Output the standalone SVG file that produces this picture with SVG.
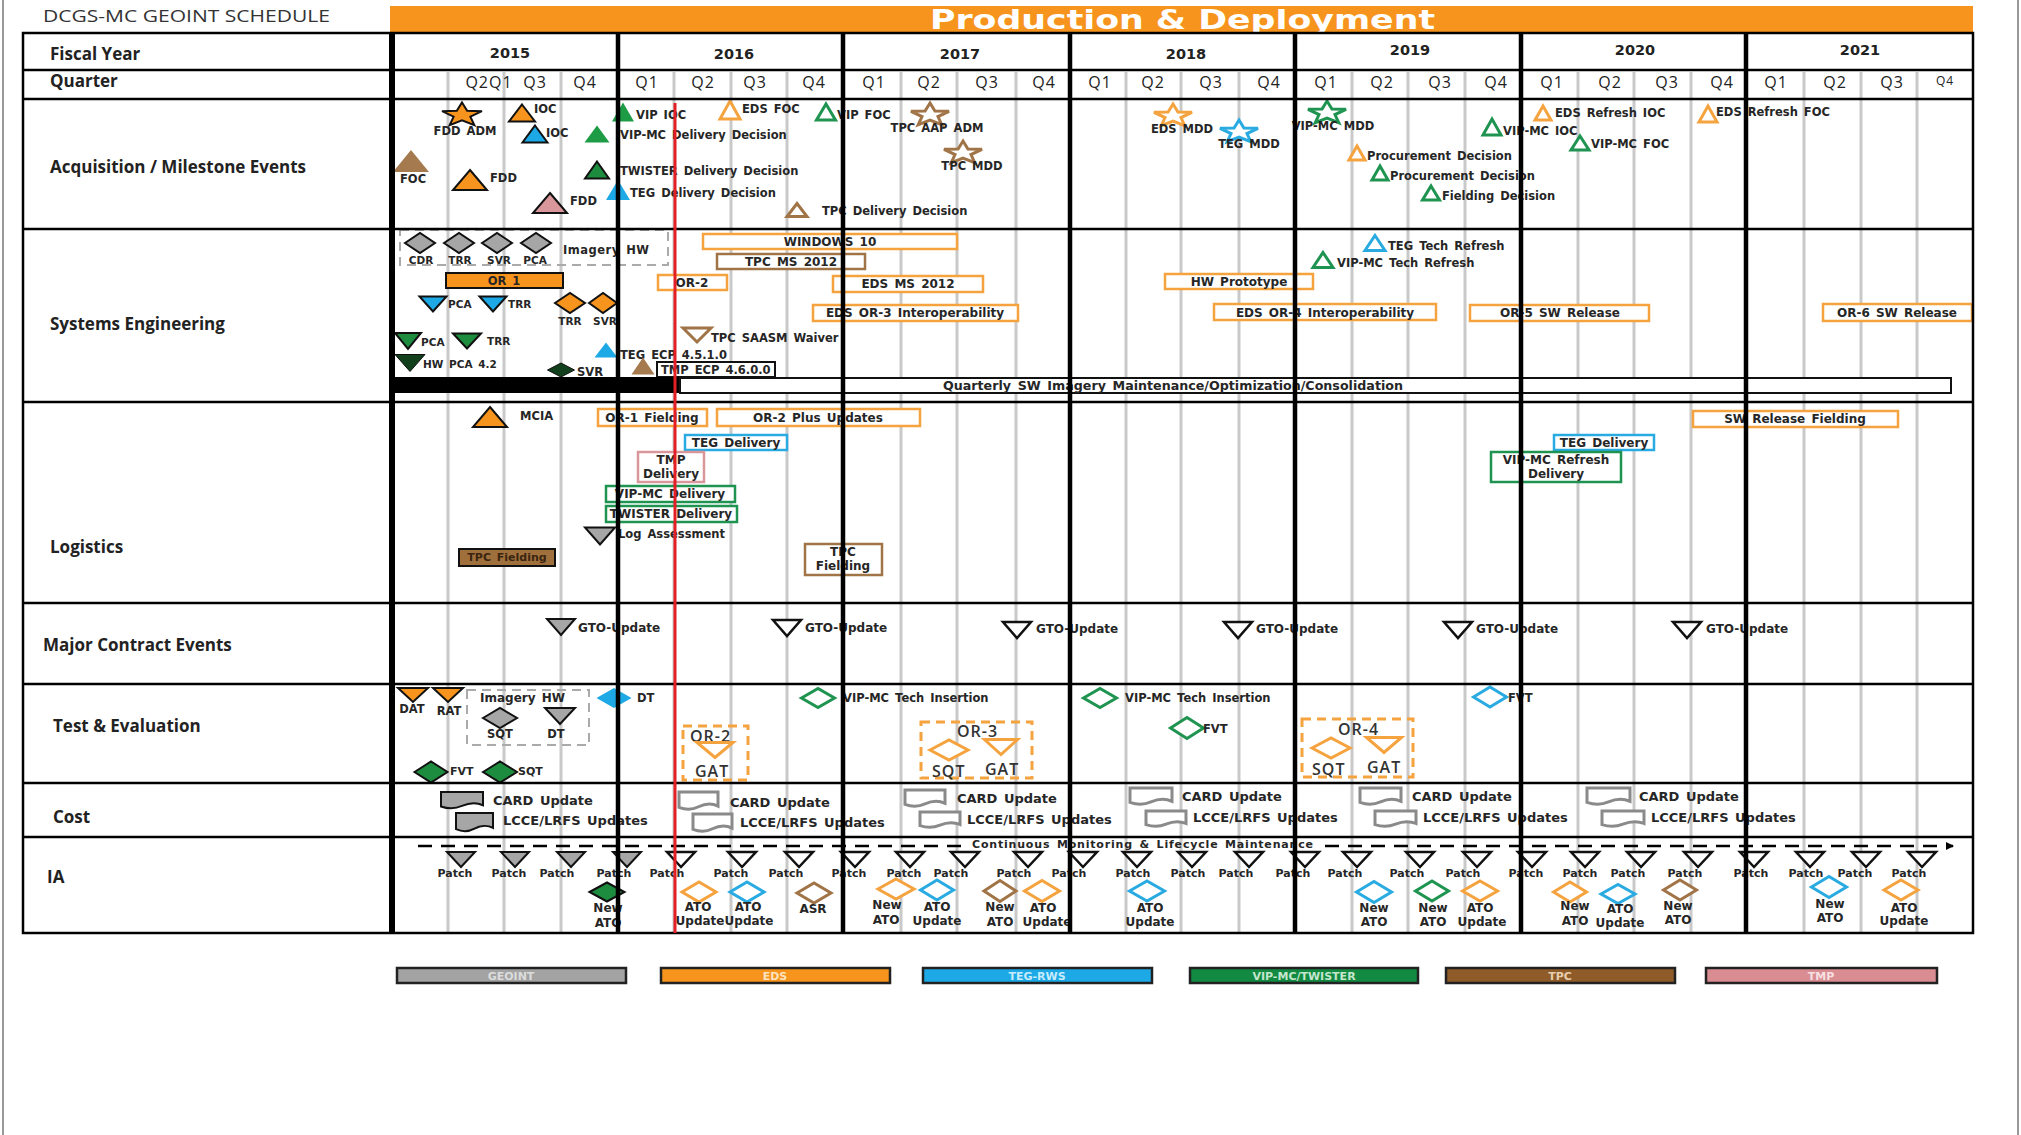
<svg xmlns="http://www.w3.org/2000/svg" width="2021" height="1135" viewBox="0 0 2021 1135">
<style>
text{font-family:"DejaVu Sans",Verdana,sans-serif;font-weight:bold;font-size:11.5px;fill:#262626;word-spacing:2px}
.h{font-family:"Open Sans","Liberation Sans",sans-serif;font-size:17px;font-weight:700;word-spacing:0;fill:#222}
.yr{font-size:14.5px;text-anchor:middle;fill:#222}
.q{font-family:"Open Sans","Liberation Sans",sans-serif;font-weight:400;font-size:16px;letter-spacing:1px;text-anchor:middle;fill:#222}
.mid{text-anchor:middle}
.bx{font-size:12px;text-anchor:middle}
.c{font-size:13px}
.ia{font-size:12px;text-anchor:middle}
.pt{font-size:11px;text-anchor:middle}
.or{font-family:"Open Sans","Liberation Sans",sans-serif;font-weight:600;font-size:16px;letter-spacing:1px;fill:#333}
.lg{font-size:11px;text-anchor:middle}
.grid{stroke:#c9c9c9;stroke-width:3}
.yl{stroke:#000;stroke-width:4.5}
.hl{stroke:#000;stroke-width:2.5}
.oF{fill:#F7941D;stroke:#111;stroke-width:2}
.oO{fill:#fff;stroke:#F5A33F;stroke-width:3}
.bF{fill:#1CA9E6;stroke:#111;stroke-width:2}
.bN{fill:#1CA9E6}
.bO{fill:#fff;stroke:#29ABE2;stroke-width:3}
.gF{fill:#1E8C3E;stroke:#111;stroke-width:2}
.gN{fill:#1E9B45}
.gO{fill:#fff;stroke:#1E9450;stroke-width:3}
.dg{fill:#123F1C;stroke:#111;stroke-width:1}
.rN{fill:#A57A4E}
.rO{fill:#fff;stroke:#A07446;stroke-width:3}
.pF{fill:#D9979B;stroke:#111;stroke-width:2}
.yF{fill:#A6A6A6;stroke:#111;stroke-width:2}
.kO{fill:#fff;stroke:#111;stroke-width:2.5}
.cO{fill:#fff;stroke:#8a8a8a;stroke-width:3}
.bxo{fill:#fff;stroke:#F5A33F;stroke-width:2.5}
.bxr{fill:#fff;stroke:#A07446;stroke-width:2.5}
.bxb{fill:#fff;stroke:#29ABE2;stroke-width:2.5}
.bxg{fill:#fff;stroke:#1E9450;stroke-width:2.5}
.bxp{fill:#fff;stroke:#D9979B;stroke-width:2.5}
.bxk{fill:#fff;stroke:#111;stroke-width:2}
.dsh{fill:none;stroke:#aaa;stroke-width:2;stroke-dasharray:9 6}
.dso{fill:none;stroke:#F5A33F;stroke-width:3;stroke-dasharray:9 6}
.leg{stroke:#222;stroke-width:2.5}
</style>
<defs>
<path id="tu" d="M0,-0.5L0.5,0.5L-0.5,0.5Z" vector-effect="non-scaling-stroke"/>
<path id="td" d="M-0.5,-0.5L0.5,-0.5L0,0.5Z" vector-effect="non-scaling-stroke"/>
<path id="dm" d="M-0.5,0L0,-0.5L0.5,0L0,0.5Z" vector-effect="non-scaling-stroke"/>
<path id="st" d="M0,-1L0.247,-0.34L0.951,-0.309L0.399,0.13L0.588,0.809L0,0.42L-0.588,0.809L-0.399,0.13L-0.951,-0.309L-0.247,-0.34Z" vector-effect="non-scaling-stroke"/>
<path id="doc" d="M0,0H1V0.78C0.85,0.62 0.65,0.66 0.5,0.82C0.35,0.98 0.15,0.98 0,0.85Z" vector-effect="non-scaling-stroke"/>
<marker id="arr" markerWidth="8" markerHeight="8" refX="7" refY="4" orient="auto" markerUnits="userSpaceOnUse"><path d="M0,0L8,4L0,8Z" fill="#000"/></marker>
</defs>
<rect width="2021" height="1135" fill="#fff"/>
<line x1="3" y1="0" x2="3" y2="1135" stroke="#999" stroke-width="2"/>
<line x1="2018" y1="0" x2="2018" y2="1135" stroke="#999" stroke-width="2"/>

<g id="title">
<text x="43" y="22" style="font-family:'Open Sans','Liberation Sans',sans-serif;font-weight:400;font-size:16.5px;word-spacing:0;fill:#333" textLength="287" lengthAdjust="spacingAndGlyphs">DCGS-MC GEOINT SCHEDULE</text>
<rect x="390" y="6" width="1583" height="28" fill="#F7941D"/>
<text x="930" y="29" style="font-size:26px;fill:#fff;word-spacing:0" textLength="505" lengthAdjust="spacingAndGlyphs">Production &amp; Deployment</text>
</g>

<g id="grid">
<g class="grid">
<line x1="448" y1="72" x2="448" y2="933"/><line x1="504" y1="72" x2="504" y2="933"/><line x1="561" y1="72" x2="561" y2="933"/>
<line x1="674" y1="72" x2="674" y2="933"/><line x1="731" y1="72" x2="731" y2="933"/><line x1="787" y1="72" x2="787" y2="933"/>
<line x1="901" y1="72" x2="901" y2="933"/><line x1="957" y1="72" x2="957" y2="933"/><line x1="1016" y1="72" x2="1016" y2="933"/>
<line x1="1126" y1="72" x2="1126" y2="933"/><line x1="1181" y1="72" x2="1181" y2="933"/><line x1="1239" y1="72" x2="1239" y2="933"/>
<line x1="1352" y1="72" x2="1352" y2="933"/><line x1="1408" y1="72" x2="1408" y2="933"/><line x1="1465" y1="72" x2="1465" y2="933"/>
<line x1="1578" y1="72" x2="1578" y2="933"/><line x1="1634" y1="72" x2="1634" y2="933"/><line x1="1691" y1="72" x2="1691" y2="933"/>
<line x1="1804" y1="72" x2="1804" y2="933"/><line x1="1861" y1="72" x2="1861" y2="933"/><line x1="1917" y1="72" x2="1917" y2="933"/>
</g>
</g>

<g id="headers">
<text class="h" x="50" y="60">Fiscal Year</text>
<text class="h" x="50" y="87">Quarter</text>
<text class="h" x="50" y="173">Acquisition / Milestone Events</text>
<text class="h" x="50" y="330">Systems Engineering</text>
<text class="h" x="50" y="553">Logistics</text>
<text class="h" x="43" y="651">Major Contract Events</text>
<text class="h" x="53" y="732">Test &amp; Evaluation</text>
<text class="h" x="53" y="823">Cost</text>
<text class="h" x="47" y="883">IA</text>
<text class="yr" x="510" y="58">2015</text>
<text class="yr" x="734" y="59">2016</text>
<text class="yr" x="960" y="59">2017</text>
<text class="yr" x="1186" y="59">2018</text>
<text class="yr" x="1410" y="55">2019</text>
<text class="yr" x="1635" y="55">2020</text>
<text class="yr" x="1860" y="55">2021</text>
<text class="q" x="489" y="88">Q2Q1</text><text class="q" x="535" y="88">Q3</text><text class="q" x="585" y="88">Q4</text>
<text class="q" x="647" y="88">Q1</text><text class="q" x="703" y="88">Q2</text><text class="q" x="755" y="88">Q3</text><text class="q" x="814" y="88">Q4</text>
<text class="q" x="874" y="88">Q1</text><text class="q" x="929" y="88">Q2</text><text class="q" x="987" y="88">Q3</text><text class="q" x="1044" y="88">Q4</text>
<text class="q" x="1100" y="88">Q1</text><text class="q" x="1153" y="88">Q2</text><text class="q" x="1211" y="88">Q3</text><text class="q" x="1269" y="88">Q4</text>
<text class="q" x="1326" y="88">Q1</text><text class="q" x="1382" y="88">Q2</text><text class="q" x="1440" y="88">Q3</text><text class="q" x="1496" y="88">Q4</text>
<text class="q" x="1552" y="88">Q1</text><text class="q" x="1610" y="88">Q2</text><text class="q" x="1667" y="88">Q3</text><text class="q" x="1722" y="88">Q4</text>
<text class="q" x="1776" y="88">Q1</text><text class="q" x="1835" y="88">Q2</text><text class="q" x="1892" y="88">Q3</text><text class="q" x="1945" y="85" style="font-size:12px">Q4</text>
</g>

<g id="acquisition">
<g id="fdd-adm"><use href="#st" class="oF" transform="translate(462,115) scale(21,12.5)"/><text x="465" y="135" class="mid">FDD ADM</text></g>
<g id="ioc-eds"><use href="#tu" class="oF" transform="translate(522,113) scale(26,17)"/><text x="534" y="113">IOC</text></g>
<g id="ioc-teg"><use href="#tu" class="bF" transform="translate(535,134) scale(25,17)"/><text x="546" y="137">IOC</text></g>
<g id="vipmc-dd"><use href="#tu" class="gN" transform="translate(597,134) scale(25,17)"/><text x="620" y="139">VIP-MC Delivery Decision</text></g>
<g id="vip-ioc"><use href="#tu" class="gN" transform="translate(623,112) scale(22,19)"/><text x="636" y="119">VIP IOC</text></g>
<g id="twister-dd"><use href="#tu" class="gF" transform="translate(597,170) scale(24,17)"/><text x="620" y="175">TWISTER Delivery Decision</text></g>
<g id="teg-dd"><use href="#tu" class="bN" transform="translate(618,190) scale(24,20)"/><text x="630" y="197">TEG Delivery Decision</text></g>
<g id="fdd-tmp"><use href="#tu" class="pF" transform="translate(550,203) scale(34,20)"/><text x="570" y="205">FDD</text></g>
<g id="foc"><use href="#tu" class="rN" transform="translate(411,161) scale(36,22)"/><text x="400" y="183">FOC</text></g>
<g id="fdd-eds"><use href="#tu" class="oF" transform="translate(470,180) scale(34,20)"/><text x="490" y="182">FDD</text></g>
<g id="eds-foc"><use href="#tu" class="oO" transform="translate(730,110) scale(20,18)"/><text x="742" y="113">EDS FOC</text></g>
<g id="vip-foc"><use href="#tu" class="gO" transform="translate(826,112) scale(19,16)"/><text x="837" y="119">VIP FOC</text></g>
<g id="tpc-aap-adm"><use href="#st" class="rO" transform="translate(930,115) scale(20,12)"/><text x="937" y="132" class="mid">TPC AAP ADM</text></g>
<g id="tpc-mdd"><use href="#st" class="rO" transform="translate(963,153) scale(20,12)"/><text x="972" y="170" class="mid">TPC MDD</text></g>
<g id="tpc-dd"><use href="#tu" class="rO" transform="translate(797,210) scale(20,13)"/><text x="822" y="215">TPC Delivery Decision</text></g>
<g id="eds-mdd"><use href="#st" class="oO" transform="translate(1173,116) scale(20,12)"/><text x="1182" y="133" class="mid">EDS MDD</text></g>
<g id="teg-mdd"><use href="#st" class="bO" transform="translate(1239,132) scale(20,12)"/><text x="1249" y="148" class="mid">TEG MDD</text></g>
<g id="vipmc-mdd"><use href="#st" class="gO" transform="translate(1327,113) scale(20,12)"/><text x="1333" y="130" class="mid">VIP-MC MDD</text></g>
<g id="proc-eds"><use href="#tu" class="oO" transform="translate(1357,153) scale(16,14)"/><text x="1367" y="160">Procurement Decision</text></g>
<g id="proc-vip"><use href="#tu" class="gO" transform="translate(1380,173) scale(16,14)"/><text x="1390" y="180">Procurement Decision</text></g>
<g id="fielding-dec"><use href="#tu" class="gO" transform="translate(1431,193) scale(17,14)"/><text x="1442" y="200">Fielding Decision</text></g>
<g id="vipmc-ioc"><use href="#tu" class="gO" transform="translate(1492,127) scale(18,16)"/><text x="1503" y="135">VIP-MC IOC</text></g>
<g id="eds-ref-ioc"><use href="#tu" class="oO" transform="translate(1543,113) scale(16,14)"/><text x="1555" y="117">EDS Refresh IOC</text></g>
<g id="vipmc-foc"><use href="#tu" class="gO" transform="translate(1580,143) scale(18,14)"/><text x="1591" y="148">VIP-MC FOC</text></g>
<g id="eds-ref-foc"><use href="#tu" class="oO" transform="translate(1708,114) scale(18,16)"/><text x="1716" y="116">EDS Refresh FOC</text></g>
</g>

<g id="systems-eng">
<g id="imagery-hw-se">
<rect class="dsh" x="400" y="230" width="268" height="35"/>
<use href="#dm" class="yF" transform="translate(420,243) scale(30,20)"/>
<use href="#dm" class="yF" transform="translate(459,243) scale(30,20)"/>
<use href="#dm" class="yF" transform="translate(497,243) scale(30,20)"/>
<use href="#dm" class="yF" transform="translate(536,243) scale(30,20)"/>
<text x="421" y="264" class="mid" style="font-size:10.5px">CDR</text>
<text x="460" y="264" class="mid" style="font-size:10.5px">TRR</text>
<text x="499" y="264" class="mid" style="font-size:10.5px">SVR</text>
<text x="535" y="264" class="mid" style="font-size:10.5px">PCA</text>
<text x="563" y="254" style="letter-spacing:0.5px">Imagery HW</text>
</g>
<g id="or1"><rect x="446" y="273" width="117" height="15" fill="#F7941D" stroke="#111" stroke-width="2"/><text x="504" y="285" class="mid">OR 1</text></g>
<g id="pca-teg"><use href="#td" class="bF" transform="translate(433,304) scale(27,15)"/><text x="448" y="308" style="font-size:10.5px">PCA</text></g>
<g id="trr-teg"><use href="#td" class="bF" transform="translate(493,304) scale(27,15)"/><text x="508" y="308" style="font-size:10.5px">TRR</text></g>
<g id="trr-eds"><use href="#dm" class="oF" transform="translate(570,303) scale(30,20)"/><text x="570" y="325" class="mid" style="font-size:10.5px">TRR</text></g>
<g id="svr-eds"><use href="#dm" class="oF" transform="translate(603,303) scale(28,20)"/><text x="605" y="325" class="mid" style="font-size:10.5px">SVR</text></g>
<g id="pca-vip"><use href="#td" class="gF" transform="translate(408,341) scale(26,16)"/><text x="421" y="346" style="font-size:10.5px">PCA</text></g>
<g id="trr-vip"><use href="#td" class="gF" transform="translate(467,341) scale(28,15)"/><text x="487" y="345" style="font-size:10.5px">TRR</text></g>
<g id="hw-pca"><use href="#td" class="dg" transform="translate(410,363) scale(30,17)"/><text x="423" y="368" style="font-size:10.5px">HW PCA 4.2</text></g>
<g id="svr-vip"><use href="#dm" class="dg" transform="translate(561,370) scale(27,14)"/><text x="577" y="376">SVR</text></g>
<g id="teg-ecp"><use href="#tu" class="bN" transform="translate(606,350) scale(23,15)"/><text x="620" y="359">TEG ECP 4.5.1.0</text></g>
<g id="tmp-ecp"><use href="#tu" class="rN" transform="translate(643,366) scale(23,17)"/><rect class="bxk" x="657" y="362" width="118" height="15"/><text x="661" y="374">TMP ECP 4.6.0.0</text></g>
<g id="tpc-saasm"><use href="#td" class="rO" transform="translate(697,335) scale(28,14)"/><text x="711" y="342">TPC SAASM Waiver</text></g>
<g id="quarterly"><rect x="392" y="377" width="288" height="16" fill="#000"/><rect class="bxk" x="680" y="378" width="1271" height="15"/><text x="943" y="390" textLength="460" lengthAdjust="spacingAndGlyphs">Quarterly SW Imagery Maintenance/Optimization/Consolidation</text></g>
<g id="win10"><rect class="bxo" x="703" y="234" width="254" height="15"/><text x="830" y="246" class="bx">WINDOWS 10</text></g>
<g id="tpc-ms"><rect class="bxr" x="717" y="254" width="148" height="15"/><text x="791" y="266" class="bx">TPC MS 2012</text></g>
<g id="or2-se"><rect class="bxo" x="658" y="275" width="69" height="15"/><text x="692" y="287" class="bx">OR-2</text></g>
<g id="eds-ms"><rect class="bxo" x="833" y="276" width="150" height="16"/><text x="908" y="288" class="bx">EDS MS 2012</text></g>
<g id="eds-or3"><rect class="bxo" x="813" y="305" width="205" height="16"/><text x="915" y="317" class="bx">EDS OR-3 Interoperability</text></g>
<g id="hw-proto"><rect class="bxo" x="1165" y="274" width="148" height="15"/><text x="1239" y="286" class="bx">HW Prototype</text></g>
<g id="eds-or4"><rect class="bxo" x="1214" y="304" width="222" height="16"/><text x="1325" y="317" class="bx">EDS OR-4 Interoperability</text></g>
<g id="teg-tr"><use href="#tu" class="bO" transform="translate(1375,243) scale(20,15)"/><text x="1388" y="250">TEG Tech Refresh</text></g>
<g id="vip-tr"><use href="#tu" class="gO" transform="translate(1323,260) scale(20,15)"/><text x="1337" y="267">VIP-MC Tech Refresh</text></g>
<g id="or5"><rect class="bxo" x="1470" y="305" width="179" height="16"/><text x="1560" y="317" class="bx">OR-5 SW Release</text></g>
<g id="or6"><rect class="bxo" x="1823" y="304" width="149" height="17"/><text x="1897" y="317" class="bx">OR-6 SW Release</text></g>
</g>

<g id="logistics">
<g id="mcia"><use href="#tu" class="oF" transform="translate(490,417) scale(34,20)"/><text x="520" y="420">MCIA</text></g>
<g id="or1-field"><rect class="bxo" x="598" y="409" width="109" height="17"/><text x="652" y="422" class="bx">OR-1 Fielding</text></g>
<g id="or2-plus"><rect class="bxo" x="717" y="409" width="203" height="17"/><text x="818" y="422" class="bx">OR-2 Plus Updates</text></g>
<g id="teg-del"><rect class="bxb" x="685" y="435" width="102" height="15"/><text x="736" y="447" class="bx">TEG Delivery</text></g>
<g id="tmp-del"><rect class="bxp" x="638" y="452" width="66" height="30"/><text x="671" y="464" class="bx">TMP</text><text x="671" y="478" class="bx">Delivery</text></g>
<g id="vip-del"><rect class="bxg" x="606" y="486" width="129" height="16"/><text x="670" y="498" class="bx">VIP-MC Delivery</text></g>
<g id="twister-del"><rect class="bxg" x="606" y="506" width="131" height="16"/><text x="671" y="518" class="bx">TWISTER Delivery</text></g>
<g id="log-assess"><use href="#td" class="yF" transform="translate(600,536) scale(30,17)"/><text x="618" y="538">Log Assessment</text></g>
<g id="tpc-field1"><rect x="459" y="549" width="96" height="17" fill="#A0703C" stroke="#111" stroke-width="2"/><text x="507" y="561" class="bx" style="font-size:11px;fill:#3a2510">TPC Fielding</text></g>
<g id="tpc-field2"><rect class="bxr" x="805" y="544" width="77" height="31"/><text x="843" y="556" class="bx">TPC</text><text x="843" y="570" class="bx">Fielding</text></g>
<g id="sw-rel-field"><rect class="bxo" x="1693" y="411" width="205" height="16"/><text x="1795" y="423" class="bx">SW Release Fielding</text></g>
<g id="teg-del2"><rect class="bxb" x="1554" y="435" width="100" height="15"/><text x="1604" y="447" class="bx">TEG Delivery</text></g>
<g id="vip-ref-del"><rect class="bxg" x="1491" y="452" width="130" height="30"/><text x="1556" y="464" class="bx">VIP-MC Refresh</text><text x="1556" y="478" class="bx">Delivery</text></g>
</g>

<g id="contract">
<g id="gto1"><use href="#td" class="yF" transform="translate(561,627) scale(28,16)"/><text x="578" y="632" style="font-size:12px">GTO-Update</text></g>
<g id="gto2"><use href="#td" class="kO" transform="translate(787,628) scale(28,16)"/><text x="805" y="632" style="font-size:12px">GTO-Update</text></g>
<g id="gto3"><use href="#td" class="kO" transform="translate(1017,630) scale(28,16)"/><text x="1036" y="633" style="font-size:12px">GTO-Update</text></g>
<g id="gto4"><use href="#td" class="kO" transform="translate(1238,630) scale(28,16)"/><text x="1256" y="633" style="font-size:12px">GTO-Update</text></g>
<g id="gto5"><use href="#td" class="kO" transform="translate(1458,630) scale(28,16)"/><text x="1476" y="633" style="font-size:12px">GTO-Update</text></g>
<g id="gto6"><use href="#td" class="kO" transform="translate(1687,630) scale(28,16)"/><text x="1706" y="633" style="font-size:12px">GTO-Update</text></g>
</g>

<g id="test-eval">
<g id="dat"><use href="#td" class="oF" transform="translate(413,695) scale(30,14)"/><text x="412" y="713" class="mid">DAT</text></g>
<g id="rat"><use href="#td" class="oF" transform="translate(448,695) scale(30,14)"/><text x="449" y="715" class="mid">RAT</text></g>
<g id="imagery-hw-te">
<rect class="dsh" x="467" y="690" width="122" height="55"/>
<text x="480" y="702" style="font-size:12px">Imagery HW</text>
<use href="#dm" class="yF" transform="translate(500,718) scale(34,20)"/><text x="500" y="738" class="mid">SQT</text>
<use href="#td" class="yF" transform="translate(560,716) scale(30,16)"/><text x="556" y="738" class="mid">DT</text>
</g>
<g id="fvt-vip"><use href="#dm" class="gF" transform="translate(431,772) scale(33,21)"/><text x="450" y="775" style="font-size:11px">FVT</text></g>
<g id="sqt-vip"><use href="#dm" class="gF" transform="translate(500,772) scale(34,21)"/><text x="518" y="775" style="font-size:11px">SQT</text></g>
<g id="dt-teg"><use href="#dm" class="bN" transform="translate(614,698) scale(35,20)"/><text x="637" y="702">DT</text></g>
<g id="vip-ti1"><use href="#dm" class="gO" transform="translate(818,698) scale(33,19)"/><text x="843" y="702">VIP-MC Tech Insertion</text></g>
<g id="vip-ti2"><use href="#dm" class="gO" transform="translate(1100,698) scale(33,19)"/><text x="1125" y="702">VIP-MC Tech Insertion</text></g>
<g id="fvt-vip2"><use href="#dm" class="gO" transform="translate(1187,728) scale(33,21)"/><text x="1203" y="733">FVT</text></g>
<g id="fvt-teg"><use href="#dm" class="bO" transform="translate(1490,697) scale(33,20)"/><text x="1508" y="702">FVT</text></g>
<g id="or2-te"><rect class="dso" x="683" y="726" width="65" height="54"/><text class="or" x="690" y="742">OR-2</text><use href="#td" class="oO" transform="translate(715,750) scale(36,15)"/><text class="or" x="695" y="777">GAT</text></g>
<g id="or3-te"><rect class="dso" x="921" y="722" width="111" height="56"/><text class="or" x="957" y="737">OR-3</text><use href="#dm" class="oO" transform="translate(949,750) scale(38,20)"/><use href="#td" class="oO" transform="translate(1001,747) scale(33,15)"/><text class="or" x="932" y="777">SQT</text><text class="or" x="985" y="775">GAT</text></g>
<g id="or4-te"><rect class="dso" x="1302" y="719" width="111" height="58"/><text class="or" x="1338" y="735">OR-4</text><use href="#dm" class="oO" transform="translate(1331,748) scale(38,20)"/><use href="#td" class="oO" transform="translate(1384,745) scale(35,15)"/><text class="or" x="1312" y="775">SQT</text><text class="or" x="1367" y="773">GAT</text></g>
</g>

<g id="cost">
<g id="card15"><use href="#doc" class="yF" transform="translate(441,792) scale(42,17)"/><text class="c" x="493" y="805">CARD Update</text></g>
<g id="lcce15"><use href="#doc" class="yF" transform="translate(456,813) scale(37,19)"/><text class="c" x="503" y="825">LCCE/LRFS Updates</text></g>
<g id="card16"><use href="#doc" class="cO" transform="translate(679,792) scale(39,18)"/><text class="c" x="730" y="807">CARD Update</text></g>
<g id="lcce16"><use href="#doc" class="cO" transform="translate(693,814) scale(39,18)"/><text class="c" x="740" y="827">LCCE/LRFS Updates</text></g>
<g id="card17"><use href="#doc" class="cO" transform="translate(905,790) scale(40,17)"/><text class="c" x="957" y="803">CARD Update</text></g>
<g id="lcce17"><use href="#doc" class="cO" transform="translate(920,812) scale(40,16)"/><text class="c" x="967" y="824">LCCE/LRFS Updates</text></g>
<g id="card18"><use href="#doc" class="cO" transform="translate(1130,788) scale(42,17)"/><text class="c" x="1182" y="801">CARD Update</text></g>
<g id="lcce18"><use href="#doc" class="cO" transform="translate(1146,811) scale(40,16)"/><text class="c" x="1193" y="822">LCCE/LRFS Updates</text></g>
<g id="card19"><use href="#doc" class="cO" transform="translate(1360,788) scale(41,17)"/><text class="c" x="1412" y="801">CARD Update</text></g>
<g id="lcce19"><use href="#doc" class="cO" transform="translate(1375,811) scale(41,16)"/><text class="c" x="1423" y="822">LCCE/LRFS Updates</text></g>
<g id="card20"><use href="#doc" class="cO" transform="translate(1587,788) scale(43,17)"/><text class="c" x="1639" y="801">CARD Update</text></g>
<g id="lcce20"><use href="#doc" class="cO" transform="translate(1602,811) scale(42,16)"/><text class="c" x="1651" y="822">LCCE/LRFS Updates</text></g>
</g>

<g id="connectors">
<line x1="418" y1="846" x2="967" y2="846" stroke="#000" stroke-width="2.5" stroke-dasharray="14 9"/>
<line x1="1325" y1="846" x2="1953" y2="846" stroke="#000" stroke-width="2.5" stroke-dasharray="14 9" marker-end="url(#arr)"/>
</g>

<g id="ia">
<text x="972" y="848" style="font-size:11px" textLength="341" lengthAdjust="spacing">Continuous Monitoring &amp; Lifecycle Maintenance</text>
<g id="patches">
<use href="#td" class="yF" transform="translate(461,859.5) scale(28,15)"/><text class="pt" x="455" y="877">Patch</text>
<use href="#td" class="yF" transform="translate(515,859.5) scale(28,15)"/><text class="pt" x="509" y="877">Patch</text>
<use href="#td" class="yF" transform="translate(571,859.5) scale(28,15)"/><text class="pt" x="557" y="877">Patch</text>
<use href="#td" class="yF" transform="translate(627,859.5) scale(28,15)"/><text class="pt" x="614" y="877">Patch</text>
<use href="#td" class="kO" transform="translate(681,859.5) scale(28,15)"/><text class="pt" x="667" y="877">Patch</text>
<use href="#td" class="kO" transform="translate(742,859.5) scale(28,15)"/><text class="pt" x="731" y="877">Patch</text>
<use href="#td" class="kO" transform="translate(799,859.5) scale(28,15)"/><text class="pt" x="786" y="877">Patch</text>
<use href="#td" class="kO" transform="translate(855,859.5) scale(28,15)"/><text class="pt" x="849" y="877">Patch</text>
<use href="#td" class="kO" transform="translate(910,859.5) scale(28,15)"/><text class="pt" x="904" y="877">Patch</text>
<use href="#td" class="kO" transform="translate(965,859.5) scale(28,15)"/><text class="pt" x="951" y="877">Patch</text>
<use href="#td" class="kO" transform="translate(1028,859.5) scale(28,15)"/><text class="pt" x="1014" y="877">Patch</text>
<use href="#td" class="kO" transform="translate(1083,859.5) scale(28,15)"/><text class="pt" x="1069" y="877">Patch</text>
<use href="#td" class="kO" transform="translate(1137,859.5) scale(28,15)"/><text class="pt" x="1133" y="877">Patch</text>
<use href="#td" class="kO" transform="translate(1192,859.5) scale(28,15)"/><text class="pt" x="1188" y="877">Patch</text>
<use href="#td" class="kO" transform="translate(1249,859.5) scale(28,15)"/><text class="pt" x="1236" y="877">Patch</text>
<use href="#td" class="kO" transform="translate(1305,859.5) scale(28,15)"/><text class="pt" x="1293" y="877">Patch</text>
<use href="#td" class="kO" transform="translate(1357,859.5) scale(28,15)"/><text class="pt" x="1345" y="877">Patch</text>
<use href="#td" class="kO" transform="translate(1420,859.5) scale(28,15)"/><text class="pt" x="1407" y="877">Patch</text>
<use href="#td" class="kO" transform="translate(1477,859.5) scale(28,15)"/><text class="pt" x="1463" y="877">Patch</text>
<use href="#td" class="kO" transform="translate(1532,859.5) scale(28,15)"/><text class="pt" x="1526" y="877">Patch</text>
<use href="#td" class="kO" transform="translate(1585,859.5) scale(28,15)"/><text class="pt" x="1580" y="877">Patch</text>
<use href="#td" class="kO" transform="translate(1641,859.5) scale(28,15)"/><text class="pt" x="1628" y="877">Patch</text>
<use href="#td" class="kO" transform="translate(1698,859.5) scale(28,15)"/><text class="pt" x="1685" y="877">Patch</text>
<use href="#td" class="kO" transform="translate(1754,859.5) scale(28,15)"/><text class="pt" x="1751" y="877">Patch</text>
<use href="#td" class="kO" transform="translate(1810,859.5) scale(28,15)"/><text class="pt" x="1806" y="877">Patch</text>
<use href="#td" class="kO" transform="translate(1866,859.5) scale(28,15)"/><text class="pt" x="1855" y="877">Patch</text>
<use href="#td" class="kO" transform="translate(1922,859.5) scale(28,15)"/><text class="pt" x="1909" y="877">Patch</text>
</g>
<g id="ato1"><use href="#dm" class="gF" transform="translate(607,892) scale(35,19)"/><text class="ia" x="608" y="912">New</text><text class="ia" x="608" y="927">ATO</text></g>
<g id="ato2"><use href="#dm" class="oO" transform="translate(699,892) scale(34,20)"/><text class="ia" x="698" y="911">ATO</text><text class="ia" x="700" y="925">Update</text></g>
<g id="ato3"><use href="#dm" class="bO" transform="translate(747,892) scale(34,20)"/><text class="ia" x="748" y="911">ATO</text><text class="ia" x="749" y="925">Update</text></g>
<g id="asr"><use href="#dm" class="rO" transform="translate(814,893) scale(34,20)"/><text class="ia" x="813" y="913">ASR</text></g>
<g id="ato4"><use href="#dm" class="oO" transform="translate(896,889) scale(36,20)"/><text class="ia" x="887" y="909">New</text><text class="ia" x="886" y="924">ATO</text></g>
<g id="ato5"><use href="#dm" class="bO" transform="translate(937,890) scale(33,20)"/><text class="ia" x="937" y="911">ATO</text><text class="ia" x="937" y="925">Update</text></g>
<g id="ato6"><use href="#dm" class="rO" transform="translate(1000,891) scale(32,21)"/><text class="ia" x="1000" y="911">New</text><text class="ia" x="1000" y="926">ATO</text></g>
<g id="ato7"><use href="#dm" class="oO" transform="translate(1042,891) scale(35,21)"/><text class="ia" x="1043" y="912">ATO</text><text class="ia" x="1047" y="926">Update</text></g>
<g id="ato8"><use href="#dm" class="bO" transform="translate(1147,891) scale(35,20)"/><text class="ia" x="1150" y="912">ATO</text><text class="ia" x="1150" y="926">Update</text></g>
<g id="ato9"><use href="#dm" class="bO" transform="translate(1374,892) scale(35,21)"/><text class="ia" x="1374" y="912">New</text><text class="ia" x="1374" y="926">ATO</text></g>
<g id="ato10"><use href="#dm" class="gO" transform="translate(1432,891) scale(33,20)"/><text class="ia" x="1433" y="912">New</text><text class="ia" x="1433" y="926">ATO</text></g>
<g id="ato11"><use href="#dm" class="oO" transform="translate(1480,891) scale(35,20)"/><text class="ia" x="1480" y="912">ATO</text><text class="ia" x="1482" y="926">Update</text></g>
<g id="ato12"><use href="#dm" class="oO" transform="translate(1570,892) scale(33,20)"/><text class="ia" x="1575" y="910">New</text><text class="ia" x="1575" y="925">ATO</text></g>
<g id="ato13"><use href="#dm" class="bO" transform="translate(1618,894) scale(34,19)"/><text class="ia" x="1620" y="913">ATO</text><text class="ia" x="1620" y="927">Update</text></g>
<g id="ato14"><use href="#dm" class="rO" transform="translate(1680,890) scale(33,20)"/><text class="ia" x="1678" y="910">New</text><text class="ia" x="1678" y="924">ATO</text></g>
<g id="ato15"><use href="#dm" class="bO" transform="translate(1829,887) scale(35,21)"/><text class="ia" x="1830" y="908">New</text><text class="ia" x="1830" y="922">ATO</text></g>
<g id="ato16"><use href="#dm" class="oO" transform="translate(1901,890) scale(34,20)"/><text class="ia" x="1904" y="912">ATO</text><text class="ia" x="1904" y="925">Update</text></g>
</g>

<g id="table-lines">
<rect x="23" y="33" width="1950" height="900" fill="none" stroke="#000" stroke-width="2.5"/>
<g class="hl">
<line x1="23" y1="70" x2="1973" y2="70"/><line x1="23" y1="99" x2="1973" y2="99"/>
<line x1="23" y1="229" x2="1973" y2="229"/><line x1="23" y1="402" x2="1973" y2="402"/>
<line x1="23" y1="603" x2="1973" y2="603"/><line x1="23" y1="684" x2="1973" y2="684"/>
<line x1="23" y1="783" x2="1973" y2="783"/><line x1="23" y1="837" x2="1973" y2="837"/>
</g>
<line x1="392" y1="33" x2="392" y2="933" stroke="#000" stroke-width="6"/>
<g class="yl">
<line x1="618" y1="33" x2="618" y2="933"/><line x1="843" y1="33" x2="843" y2="933"/>
<line x1="1070" y1="33" x2="1070" y2="933"/><line x1="1295" y1="33" x2="1295" y2="933"/>
<line x1="1521" y1="33" x2="1521" y2="933"/><line x1="1746" y1="33" x2="1746" y2="933"/>
</g>
<line id="today" x1="675" y1="103" x2="675" y2="933" stroke="#E31E24" stroke-width="3"/>
</g>

<g id="legend">
<g id="lg-geoint"><rect class="leg" x="397" y="968" width="229" height="15" fill="#A3A3A3"/><text class="lg" x="511" y="980" style="fill:#dcdcdc">GEOINT</text></g>
<g id="lg-eds"><rect class="leg" x="661" y="968" width="229" height="15" fill="#F7941D"/><text class="lg" x="775" y="980" style="fill:#fde3bf">EDS</text></g>
<g id="lg-teg"><rect class="leg" x="923" y="968" width="229" height="15" fill="#1CA9E6"/><text class="lg" x="1037" y="980" style="fill:#c8ecfb">TEG-RWS</text></g>
<g id="lg-vip"><rect class="leg" x="1190" y="968" width="228" height="15" fill="#128A41"/><text class="lg" x="1304" y="980" style="fill:#c4e6cd">VIP-MC/TWISTER</text></g>
<g id="lg-tpc"><rect class="leg" x="1446" y="968" width="229" height="15" fill="#8F5B29"/><text class="lg" x="1560" y="980" style="fill:#e6cfae">TPC</text></g>
<g id="lg-tmp"><rect class="leg" x="1706" y="968" width="231" height="15" fill="#D98C92"/><text class="lg" x="1821" y="980" style="fill:#f7e0e2">TMP</text></g>
</g>
</svg>
